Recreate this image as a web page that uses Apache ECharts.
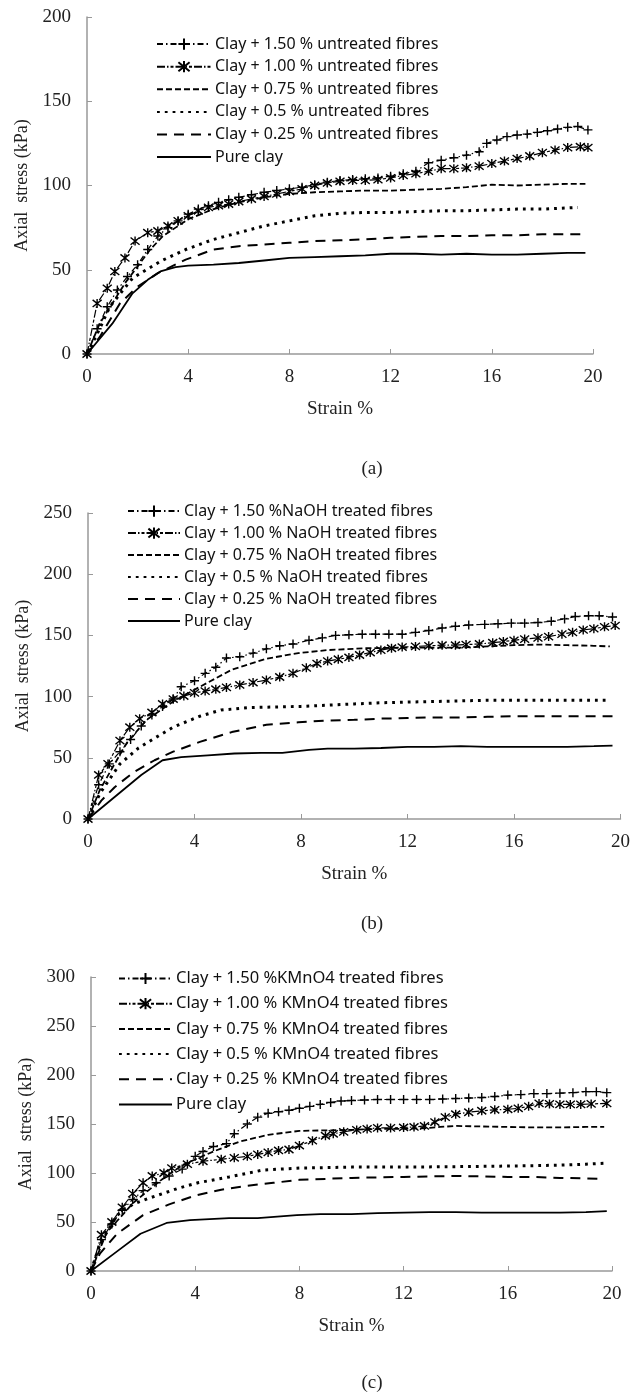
<!DOCTYPE html>
<html>
<head>
<meta charset="utf-8">
<script src="https://cdn.jsdelivr.net/npm/echarts@6/dist/echarts.min.js"></script>
<style>
  html, body { margin: 0; padding: 0; background: #fff; }
  #main { width: 633px; height: 1394px; }
</style>
</head>
<body>
<div id="main"></div>
<script>
// strain (%) vs axial stress (kPa)

// (a) untreated fibres
var a150 = [[0,0],[0.4,15],[0.8,28],[1.2,38],[1.6,46],[2,53],[2.4,62],[2.8,70],[3.2,75],[3.6,79],[4,83],[4.4,86],[4.8,88],[5.2,90],[5.6,91.5],[6,93],[6.5,94.5],[7,96],[7.5,97],[8,98],[8.5,99],[9,100.5],[9.5,102],[10,103],[10.5,103.5],[11,104],[11.5,104.5],[12,105.5],[12.5,107],[13,108.5],[13.5,113.5],[14,115],[14.5,116.5],[15,118],[15.5,120],[15.8,125],[16.2,127],[16.6,129],[17,130],[17.4,130.5],[17.8,131.5],[18.2,132.5],[18.6,133.5],[19,134.5],[19.4,135],[19.8,133]];
var a100 = [[0,0],[0.4,30],[0.8,39],[1.1,49],[1.5,57],[1.9,67],[2.4,72],[2.8,73],[3.2,76],[3.6,79],[4,82],[4.4,85],[4.8,87],[5.2,88],[5.6,89],[6,90.5],[6.5,92],[7,93.5],[7.5,95],[8,96.5],[8.5,98],[9,100],[9.5,101.5],[10,102.5],[10.5,103],[11,103],[11.5,103.5],[12,104.5],[12.5,106],[13,107],[13.5,108.5],[14,110],[14.5,110],[15,110.5],[15.5,111.5],[16,113],[16.5,114.5],[17,116],[17.5,117.5],[18,119.5],[18.5,121],[19,122.5],[19.5,123],[19.8,122.5]];
var a075 = [[0,0],[0.5,18],[1,30],[1.5,42],[2,52],[2.5,62],[3,70],[3.5,75],[4,80],[5,86],[6,90],[7,93],[8,95],[9,96],[10,96.5],[11,97],[12,97],[13,97.5],[14,98],[15,99],[16,100.5],[17,100],[18,100.5],[19,101],[19.7,101]];
var a050 = [[0,0],[0.5,15],[0.9,28],[1.8,45],[2.9,55],[3.9,62],[5,68],[6,72],[7,76],[8,79],[9,82],[10,83.5],[11,84],[12,84],[13,84.5],[14,85],[15,85],[16,85.5],[17,86],[18,86],[19.4,87]];
var a025 = [[0,0],[0.5,10],[1.3,30],[2,40],[2.8,48],[3.9,56],[5,62],[6,64],[7,65],[8,66],[9,67],[10,67.5],[11,68],[12,69],[13,69.5],[14,70],[15,70],[16,70.5],[17,70.5],[18,71],[19,71],[19.7,71]];
var aPure = [[0,0],[1,18],[1.8,36],[2.4,44],[2.9,49],[3.5,51.5],[4,52.5],[5,53],[6,54],[7,55.5],[8,57],[9,57.5],[10,58],[11,58.5],[12,59.5],[13,59.5],[14,59],[15,59.5],[16,59],[17,59],[18,59.5],[19,60],[19.7,60]];

// (b) NaOH treated fibres
var b150 = [[0,0],[0.4,28],[0.8,45],[1.2,55],[1.6,65],[2,76],[2.4,85],[2.8,92],[3.2,98],[3.5,108],[4,113],[4.4,119],[4.8,124],[5.2,131.5],[5.7,132.5],[6.2,135.5],[6.7,139],[7.2,141.5],[7.7,143],[8.3,146],[8.8,148],[9.3,150],[9.8,150.5],[10.3,151],[10.8,151],[11.3,151],[11.8,151],[12.3,152.5],[12.8,154],[13.3,156],[13.8,157.5],[14.3,158.5],[14.9,159],[15.4,159.5],[15.9,160],[16.4,160],[16.9,160.5],[17.4,161.5],[17.9,163.5],[18.3,165.5],[18.8,166],[19.2,166],[19.7,165]];
var b100 = [[0,0],[0.4,36],[0.75,45],[1.2,64],[1.57,75],[1.94,82],[2.4,87],[2.8,94],[3.2,98],[3.6,100.5],[4,103],[4.4,104.5],[4.8,106],[5.2,107.5],[5.7,109.5],[6.2,111.5],[6.7,113.5],[7.2,116],[7.7,119],[8.2,123.5],[8.6,127],[9,129],[9.4,130.5],[9.8,132],[10.2,134],[10.6,136],[11,138],[11.4,139.5],[11.8,140.5],[12.3,141],[12.8,141.5],[13.3,142],[13.8,142],[14.2,142.5],[14.7,143],[15.2,144],[15.6,145],[16,146],[16.4,147],[16.9,148],[17.3,149],[17.8,151],[18.2,152.5],[18.6,154.5],[19,155.5],[19.4,157],[19.8,158]];
var b075 = [[0,0],[0.45,24],[1,45],[1.45,62],[2.2,81],[3.2,96],[4.2,108],[5.4,122],[6.7,131],[7.9,135.5],[9,138],[10.4,139.5],[12,140],[14,140],[15,141],[16,142],[17,142.5],[18,142],[19,141.5],[19.6,141]];
var b050 = [[0,0],[0.45,21],[1.2,45],[1.9,58],[2.5,66],[3.2,75],[4.2,84],[5,89],[6,91],[7,91.5],[8,92],[9,93],[10,94],[11,95],[12,95.5],[13,96],[14,96.5],[15,97],[16,97],[17,97],[18,97],[19.6,97]];
var b025 = [[0,0],[0.5,15],[1,26],[1.7,38],[2.5,48],[3.2,55],[4.2,63],[5.4,71],[6.7,77],[7.9,79],[9,80.5],[10,81],[11,82],[12,82.5],[13,83],[14,83],[15,83.5],[16,84],[17,84],[18,84],[19,84],[19.7,84]];
var bPure = [[0,0],[1,18],[2,36],[2.8,48],[3.5,50.5],[4.5,52],[5.5,53.5],[6.5,54],[7.3,54],[8.3,56.5],[9,57.5],[10,57.5],[11,58],[12,59],[13,59],[14,59.5],[15,59],[16,59],[17,59],[18,59],[19,59.5],[19.7,60]];

// (c) KMnO4 treated fibres
var c150 = [[0,0],[0.4,32],[0.8,48],[1.2,62],[1.6,73],[2,82],[2.5,90],[3,97],[3.5,104],[4,117],[4.3,122],[4.7,127],[5.2,130],[5.5,140],[6,150],[6.4,157],[6.8,161],[7.2,162.5],[7.6,164],[8,166],[8.4,168],[8.8,170],[9.2,172],[9.6,173.5],[10,174],[10.5,174.5],[11,175],[11.5,175],[12,175],[12.5,175],[13,175],[13.5,175.5],[14,176],[14.5,176.5],[15,177],[15.5,178],[16,179.5],[16.5,180],[17,181],[17.5,181],[18,181.5],[18.5,182],[19,183],[19.4,183],[19.8,182]];
var c100 = [[0,0],[0.4,37],[0.8,50],[1.2,65],[1.6,79],[2,90],[2.35,97],[2.8,100],[3.1,105],[3.7,109],[4.3,112],[5,114],[5.5,115.5],[6,117],[6.4,119],[6.8,121],[7.2,123],[7.6,124],[8,128],[8.5,133],[9,138],[9.3,140],[9.7,142],[10.2,144],[10.6,145],[11,146],[11.5,146],[12,146.5],[12.4,147],[12.8,148],[13.2,152],[13.6,157],[14,160],[14.5,162],[15,163.5],[15.5,164.5],[16,165],[16.4,166],[16.8,168],[17.2,171],[17.6,170.5],[18,170],[18.4,170],[18.8,170],[19.2,170.5],[19.8,171]];
var c075 = [[0,0],[0.6,39],[1.6,69],[2.65,92],[3.5,108],[4.7,122],[5.7,132],[6.8,139],[8,143],[9,143.5],[10,144],[11,145],[12,145],[13,146],[13.4,147],[14,148],[15,147.5],[16,147],[17,146.5],[18,146.5],[19,147],[19.7,147]];
var c050 = [[0,0],[0.35,28],[1,57],[1.6,68],[2.2,74],[3.3,84],[4.1,90],[5.3,96],[6.6,103],[8,105],[9,105.5],[10,106],[12,106],[14,106.5],[15.7,107],[17,107.5],[18,108],[19,109],[19.7,110]];
var c025 = [[0,0],[0.35,18],[1,38],[2,57],[3,68],[4,77],[5,83],[6,87],[7,90],[8,93],[9,94],[10,95],[11,95.5],[12,96],[13,96.5],[14,97],[15,96.5],[16,96],[17,96],[18,95],[19,94.5],[19.7,94]];
var cPure = [[0,0],[1,20],[1.9,38],[2.9,49],[3.8,52],[5.3,54],[6.4,54],[7.9,57],[8.8,58],[10,58],[11,59],[12,59.5],[13,60],[14,60],[15,59.5],[16,59.5],[17,59.5],[18,59.5],[19,60],[19.8,61]];

var namesA = ['Clay + 1.50 % untreated fibres','Clay + 1.00 % untreated fibres','Clay + 0.75 % untreated fibres','Clay + 0.5 % untreated fibres','Clay + 0.25 % untreated fibres','Pure clay'];
var namesB = ['Clay + 1.50 %NaOH treated fibres','Clay + 1.00 % NaOH treated fibres','Clay + 0.75 % NaOH treated fibres','Clay + 0.5 % NaOH treated fibres','Clay + 0.25 % NaOH treated fibres','Pure clay'];
var namesC = ['Clay + 1.50 %KMnO4 treated fibres','Clay + 1.00 % KMnO4 treated fibres','Clay + 0.75 % KMnO4 treated fibres','Clay + 0.5 % KMnO4 treated fibres','Clay + 0.25 % KMnO4 treated fibres','Pure clay'];

var yMax = [200, 250, 300];
var panelLabels = ['(a)', '(b)', '(c)'];

var plusSym = 'path://M0,5L10,5M5,0L5,10';
var starSym = 'path://M1,1L9,9M9,1L1,9M5,0L5,10';

function makeSeries(idx, names, sets) {
    var styles = [
        {symbol: plusSym, line: {type: [6, 3, 1.5, 3], width: 1.2}},
        {symbol: starSym, line: {type: [8, 2, 1.5, 2, 3, 2], width: 1.2}},
        {symbol: 'none', line: {type: [6, 3], width: 1.8}},
        {symbol: 'none', line: {type: [2.8, 5], width: 3}},
        {symbol: 'none', line: {type: [10, 7], width: 2}},
        {symbol: 'none', line: {type: 'solid', width: 1.8}}
    ];
    return sets.map(function (d, i) {
        var st = styles[i];
        return {
            name: names[i],
            type: 'line',
            xAxisIndex: idx,
            yAxisIndex: idx,
            data: d,
            symbol: st.symbol,
            symbolSize: 9,
            showAllSymbol: true,
            showSymbol: st.symbol !== 'none',
            itemStyle: {color: 'none', borderColor: '#000', borderWidth: 1.4},
            lineStyle: {color: '#000', type: st.line.type, width: st.line.width},
            emphasis: {disabled: true},
            animation: false,
            z: 10 - i
        };
    });
}

var grids = [
    {left: 87, top: 17, width: 506, height: 337},
    {left: 88, top: 513, width: 534, height: 306},
    {left: 91, top: 977, width: 521, height: 294}
];

var serif = 'Liberation Serif';
var sans = 'Noto Sans';

var chart = echarts.init(document.getElementById('main'), null, {renderer: 'canvas'});

var xAxes = grids.map(function (g, i) {
    return {
        type: 'value', gridIndex: i, min: 0, max: 20, interval: 4,
        name: 'Strain %', nameLocation: 'middle', nameGap: 46,
        nameTextStyle: {fontFamily: serif, fontSize: 19, color: '#222'},
        axisLine: {lineStyle: {color: '#999', width: 1.5}},
        axisTick: {inside: true, length: 5, lineStyle: {color: '#999'}},
        axisLabel: {fontFamily: serif, fontSize: 19, color: '#222', margin: 14},
        splitLine: {show: false}
    };
});
var yAxes = grids.map(function (g, i) {
    return {
        type: 'value', gridIndex: i, min: 0, max: yMax[i], interval: 50,
        name: 'Axial  stress (kPa)', nameLocation: 'middle', nameGap: 56, nameRotate: 90,
        nameTextStyle: {fontFamily: serif, fontSize: 18, color: '#222'},
        axisLine: {show: true, lineStyle: {color: '#999', width: 1.5}},
        axisTick: {show: true, inside: true, length: 5, lineStyle: {color: '#999'}},
        axisLabel: {fontFamily: serif, fontSize: 19, color: '#222', margin: 16},
        splitLine: {show: false}
    };
});

var legendPos = [
    {left: 156, top: 36, itemWidth: 54, itemGap: 6.4, fontSize: 16},
    {left: 127, top: 503, itemWidth: 52, itemGap: 5.8, fontSize: 16},
    {left: 118, top: 970, itemWidth: 53, itemGap: 8.2, fontSize: 16.5}
];
var legendNames = [namesA, namesB, namesC];
var legends = legendPos.map(function (p, i) {
    return {
        orient: 'vertical', left: p.left, top: p.top, padding: 0,
        itemWidth: p.itemWidth, itemHeight: 14, itemGap: p.itemGap,
        data: legendNames[i].map(function (n, k) {
            return k < 2 ? n : {name: n, itemStyle: {opacity: 0}};
        }),
        selectedMode: false,
        textStyle: {fontFamily: sans, fontSize: p.fontSize, lineHeight: 16, color: '#111', padding: [0, 0, 0, -1]}
    };
});

var titles = [
    {text: panelLabels[0], left: 367, top: 455},
    {text: panelLabels[1], left: 367, top: 910},
    {text: panelLabels[2], left: 367, top: 1369}
].map(function (t) {
    t.textAlign = 'center';
    t.textStyle = {fontFamily: serif, fontSize: 19, fontWeight: 'normal', color: '#222'};
    return t;
});

var series = []
    .concat(makeSeries(0, namesA, [a150, a100, a075, a050, a025, aPure]))
    .concat(makeSeries(1, namesB, [b150, b100, b075, b050, b025, bPure]))
    .concat(makeSeries(2, namesC, [c150, c100, c075, c050, c025, cPure]));

var option = {
    backgroundColor: '#fff',
    animation: false,
    title: titles,
    legend: legends,
    grid: grids,
    xAxis: xAxes,
    yAxis: yAxes,
    series: series
};

chart.setOption(option);
</script>
</body>
</html>
